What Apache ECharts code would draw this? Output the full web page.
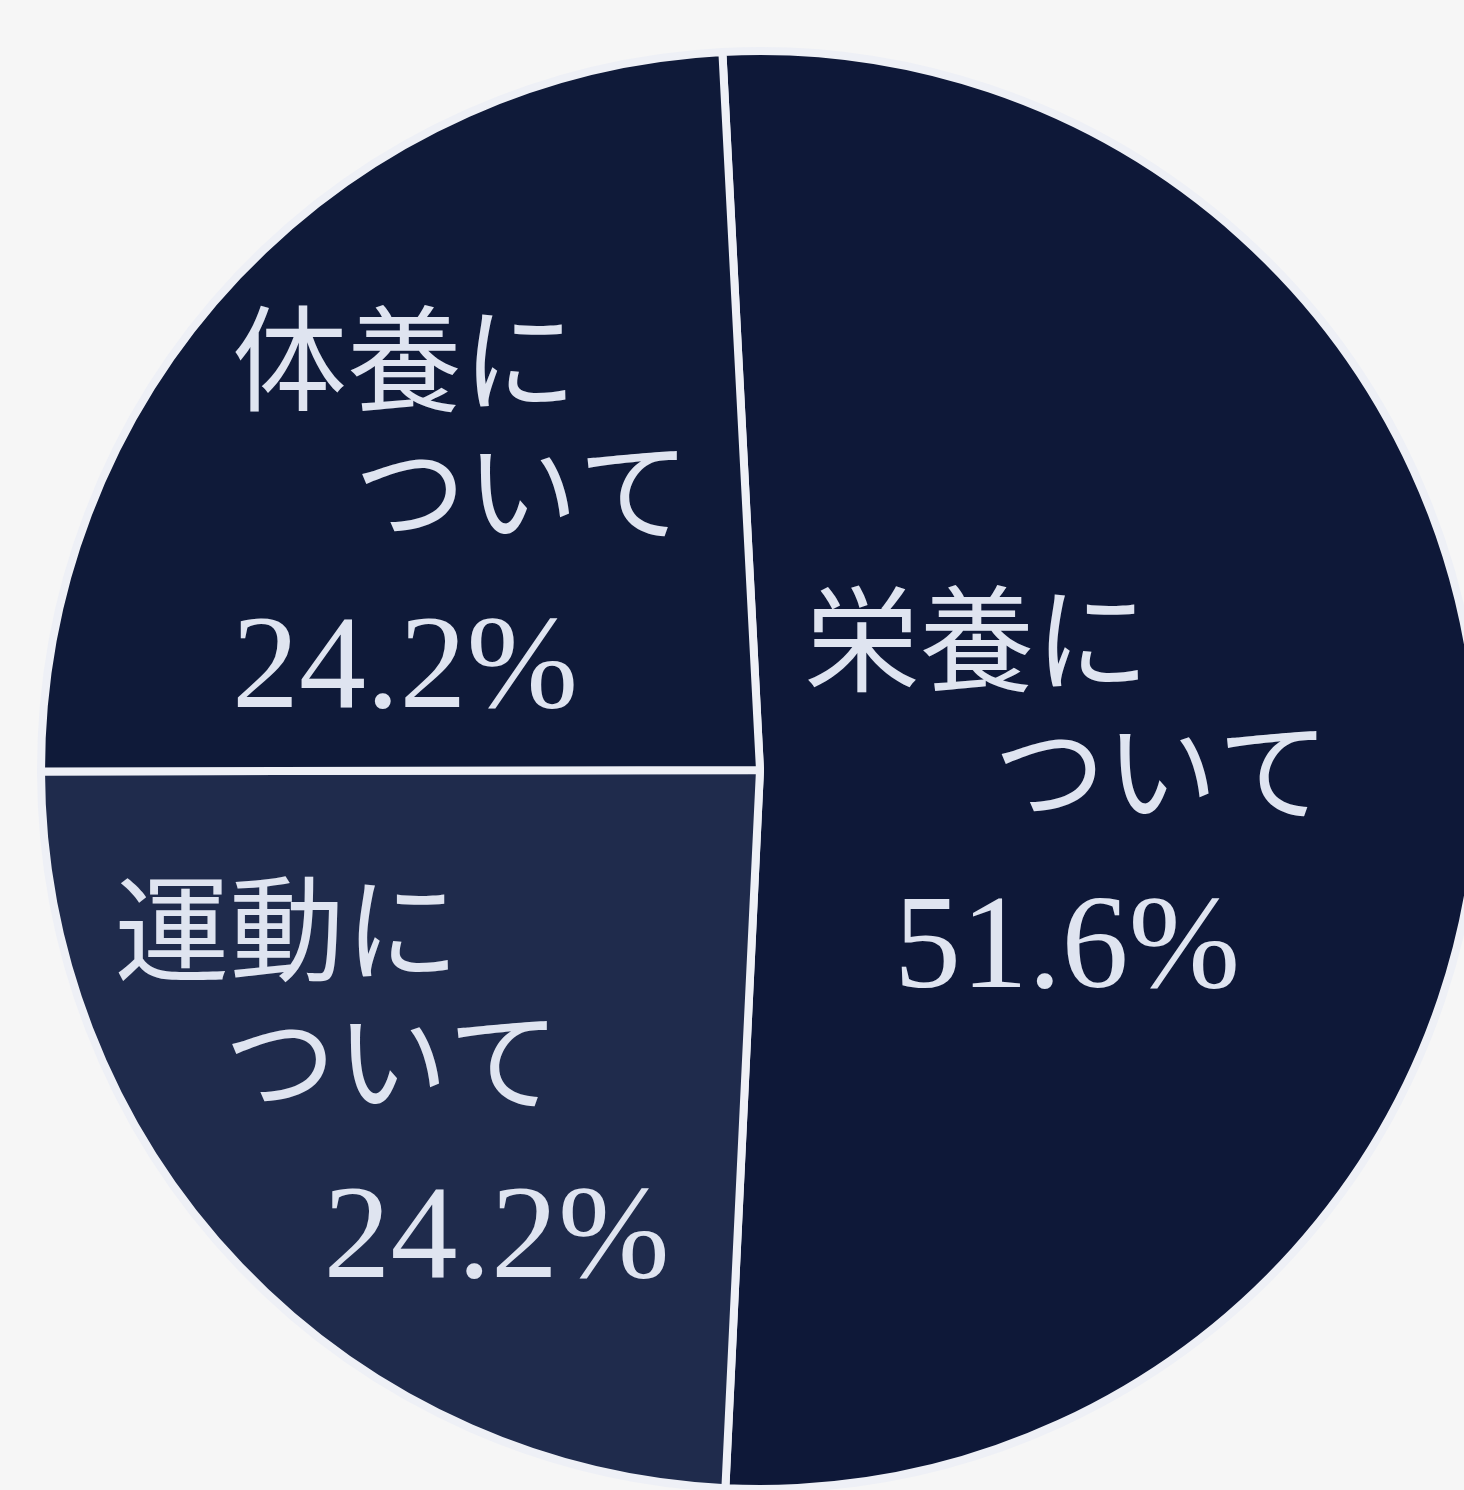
<!DOCTYPE html>
<html>
<head>
<meta charset="utf-8">
<script src="https://cdn.jsdelivr.net/npm/echarts@6/dist/echarts.min.js"></script>
<style>
  html, body { margin: 0; padding: 0; background: #f6f6f6; }
  #chart { width: 1464px; height: 1490px; }
</style>
</head>
<body>
<div id="chart"></div>
<script>
// Data
const categories = ['栄養', '運動', '体養'];
const values = [51.6, 24.2, 24.2];
const labelSuffix = ['について', 'について', 'について'];

// Label styling / placement (layout, not data)
const labelCenters = [[1067, 820], [392, 1110], [461, 540]];
const labelWidths = [525, 555, 458];
const line2Align = ['right', 'center', 'right'];
const line3Align = ['center', 'right', 'left'];
const sliceColors = ['#0e1838', '#1f2b4c', '#0f1a39'];

const chart = echarts.init(document.getElementById('chart'));

const cjk = '"Noto Sans CJK JP", sans-serif';
const serif = '"Liberation Serif", "DejaVu Serif", serif';

function richFor(i) {
  return {
    a: { fontFamily: cjk, fontSize: 115, lineHeight: 132, color: '#dfe4f0', align: 'left' },
    b: { fontFamily: cjk, fontSize: 112, lineHeight: 132, color: '#dfe4f0', align: line2Align[i] },
    c: { fontFamily: serif, fontSize: 134, lineHeight: 232, color: '#dfe4f0', align: line3Align[i] }
  };
}

chart.setOption({
  backgroundColor: '#f6f6f6',
  animation: false,
  series: [{
    type: 'pie',
    center: [760, 770],
    radius: [0, 719],
    startAngle: 93,
    clockwise: true,
    silent: true,
    itemStyle: { borderColor: '#eef0f6', borderWidth: 8 },
    labelLine: { show: false },
    data: categories.map((c, i) => ({
      name: c,
      value: values[i],
      itemStyle: { color: sliceColors[i] },
      label: {
        show: true,
        position: 'inside',
        width: labelWidths[i],
        formatter: () => '{a|' + c + labelSuffix[i].slice(0, 1) + '}\n{b|' + labelSuffix[i].slice(1) + '}\n{c|' + values[i].toFixed(1) + '%}',
        rich: richFor(i)
      }
    })),
    labelLayout: function (params) {
      const p = labelCenters[params.dataIndex];
      return { x: p[0], y: p[1], align: 'center', verticalAlign: 'middle' };
    }
  }]
});
</script>
</body>
</html>
